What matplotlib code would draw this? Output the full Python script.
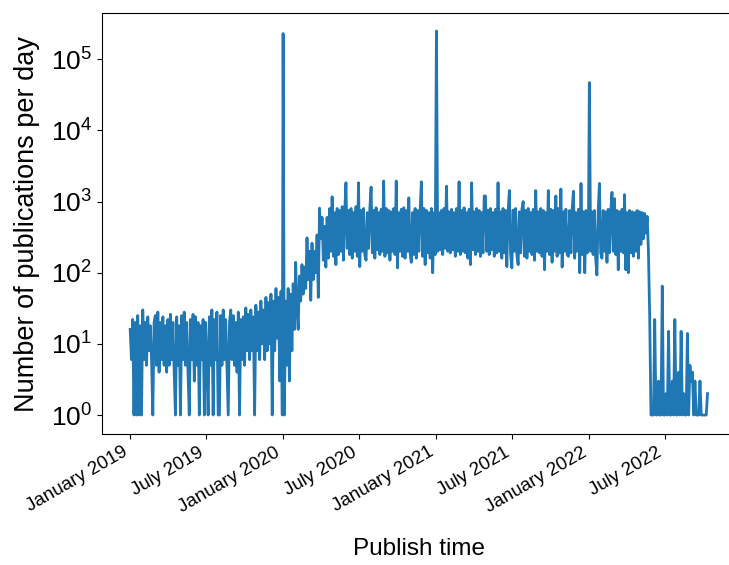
import matplotlib
matplotlib.use('Agg')
import matplotlib.pyplot as plt
import matplotlib.dates as mdates
from matplotlib.ticker import LogLocator, NullLocator
import numpy as np
import pandas as pd

plt.rcParams['font.family'] = ['Liberation Sans', 'DejaVu Sans']
plt.rcParams['mathtext.fontset'] = 'custom'
plt.rcParams['mathtext.rm'] = 'Liberation Sans'
plt.rcParams['mathtext.it'] = 'Liberation Sans:italic'

# publications per day, every third day
counts_2019 = [
    16, 6, 22, 1, 20, 1, 25, 1, 18, 1,
    30, 6, 20, 5, 24, 8, 18, 6, 1, 20,
    25, 5, 28, 4, 20, 6, 24, 5, 18, 4,
    22, 5, 26, 6, 20, 4, 1, 24, 5, 18,
    1, 25, 6, 28, 5, 20, 4, 1, 22, 6,
    26, 3, 24, 5, 20, 1, 18, 6, 22, 1,
    20, 6, 1, 24, 5, 30, 1, 22, 6, 28,
    1, 1, 25, 5, 30, 6, 22, 5, 1, 20,
    30, 6, 25, 5, 20, 4, 28, 1, 22, 6,
    24, 5, 32, 8, 26, 6, 30, 8, 24, 1,
    35, 8, 28, 6, 40, 10, 30, 6, 45, 8,
    38, 10, 50, 1, 40, 8, 60, 12, 45, 3, 55, 1,
]
counts_2020 = [
    230000, 1, 40, 5, 60, 3, 50, 8, 70, 16,
    140, 30, 16, 90, 40, 130, 50, 120, 60, 310,
    80, 200, 41, 260, 80, 200, 100, 340, 45, 810,
    300, 600, 150, 450, 120, 600, 160, 800, 200, 1170,
    170, 700, 130, 800, 180, 750, 200, 850, 150, 700,
    1840, 220, 750, 180, 800, 160, 700, 200, 850, 170,
    1840, 122, 750, 200, 800, 180, 150, 700, 220, 800,
    1600, 190, 750, 160, 820, 210, 700, 180, 780, 200,
    1950, 170, 800, 190, 750, 150, 720, 200, 800, 180,
    1950, 117, 700, 200, 780, 170, 820, 160, 750, 200,
    1130, 190, 140, 700, 180, 800, 160, 750, 200, 720,
    1900, 170, 800, 130, 750, 190, 700, 160, 800, 100, 700, 180,
]
counts_2021 = [
    250000, 200, 700, 210, 750, 180, 800, 220, 1650, 200,
    720, 190, 780, 210, 700, 170, 800, 200, 1900, 180,
    750, 200, 820, 190, 700, 160, 780, 130, 1840, 210,
    720, 180, 800, 200, 750, 170, 700, 190, 1200, 1200,
    200, 760, 180, 800, 210, 700, 170, 780, 190, 1840,
    200, 720, 160, 800, 190, 750, 122, 700, 1430, 180,
    117, 760, 200, 800, 180, 130, 720, 190, 780, 1000,
    170, 750, 160, 800, 200, 700, 180, 780, 150, 1430,
    200, 720, 190, 800, 170, 750, 110, 700, 200, 1430,
    180, 780, 140, 750, 200, 1200, 170, 800, 190, 1500,
    120, 720, 200, 780, 180, 170, 750, 190, 800, 1400,
    160, 700, 200, 780, 100, 1800, 180, 720, 100, 750, 190, 700,
]
counts_2022 = [
    47000, 200, 720, 180, 750, 160, 93, 700, 1800, 190,
    160, 750, 200, 720, 140, 780, 190, 700, 1350, 200,
    1100, 180, 750, 110, 720, 200, 780, 190, 1250, 110,
    700, 100, 750, 190, 720, 170, 700, 200, 750, 160,
    720, 250, 700, 300, 680, 360, 620, 200, 24,
    1, 1, 1, 22, 1, 1, 3, 1, 1, 65,
    1, 1, 2, 1, 15, 1, 1, 3, 1, 22,
    1, 1, 4, 1, 15, 1, 2, 1, 1, 14,
    1, 5, 3, 4, 1, 3, 1, 1, 1, 3,
    1, 1, 1, 1, 1, 2,
]

dates = pd.DatetimeIndex(np.concatenate([
    pd.date_range('2019-01-01', '2019-12-31', freq='3D'),
    pd.date_range('2020-01-01', '2020-12-31', freq='3D'),
    pd.date_range('2021-01-01', '2021-12-31', freq='3D'),
    pd.date_range('2022-01-01', '2022-10-10', freq='3D'),
]))
counts = np.array(counts_2019 + counts_2020 + counts_2021 + counts_2022, dtype=float)

fig = plt.figure(figsize=(7.29, 5.65), dpi=100)
ax = fig.add_axes([101.7 / 729, 1 - 434 / 565, (736 - 101.7) / 729, (434 - 13.3) / 565])

ax.plot(dates, counts, color='#1f77b4', linewidth=2)

ax.set_yscale('log')
ax.set_ylim(10 ** -0.267, 10 ** 5.647)
ax.yaxis.set_major_locator(LogLocator(base=10, numticks=10))
ax.yaxis.set_minor_locator(NullLocator())
ax.set_xlim(pd.Timestamp('2019-01-01') - pd.Timedelta(days=68),
            pd.Timestamp('2022-10-10') + pd.Timedelta(days=68))
ax.spines['right'].set_visible(False)

ax.xaxis.set_major_locator(mdates.MonthLocator(bymonth=[1, 7]))
ax.xaxis.set_major_formatter(mdates.DateFormatter('%B %Y'))
for lab in ax.get_xticklabels():
    lab.set_rotation(30)
    lab.set_ha('right')
ax.tick_params(axis='x', labelsize=13.5)
ax.tick_params(axis='y', labelsize=19)

ax.set_xlabel('Publish time', fontsize=17.5, labelpad=16)
ax.set_ylabel('Number of publications per day', fontsize=19.5, labelpad=8)

fig.savefig('out.png', dpi=100)
